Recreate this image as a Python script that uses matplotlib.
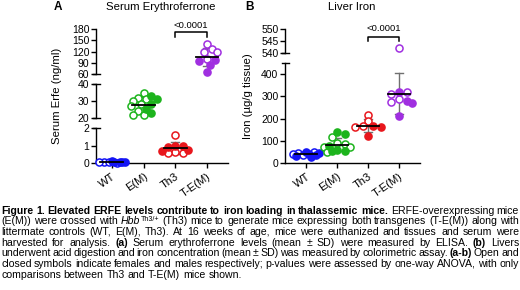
"""
Serum erythroferrone and liver iron in thalassemic mice (two broken-axis dot plots + caption)
"""

import numpy as np
import matplotlib
matplotlib.use('Agg')
import matplotlib.pyplot as plt

plt.rcParams['font.family'] = ['Liberation Sans', 'DejaVu Sans']

W, H = 520, 290

groups = ['WT', 'E(M)', 'Th3', 'T-E(M)']
colors = ['#1414f5', '#1db41d', '#e8161c', '#a02fe0']

# Serum Erfe (ng/ml); open symbols = females, closed = males
erfe_open = [
    [0.05, 0.03, 0.04, 0.02],
    [34.5, 32.0, 31.0, 30.0, 28.0, 27.0, 24.0, 22.0, 21.5],
    [1.62, 0.65, 0.60, 0.58],
    [140, 127, 120, 118, 100],
]
erfe_closed = [
    [0.12, 0.06, 0.05, 0.04, 0.03],
    [33.0, 31.0, 28.0, 25.0, 23.0],
    [1.00, 0.95, 0.90, 0.75, 0.70],
    [97, 95, 85, 65],
]

# Liver iron (ug/g tissue)
iron_open = [
    [48, 45, 42, 38],
    [118, 88, 86, 73, 70, 50],
    [215, 188, 165, 160],
    [542, 320, 309, 286, 276],
]
iron_closed = [
    [50, 44, 40, 35, 30, 28],
    [140, 130, 75, 60, 55, 53],
    [166, 162, 120],
    [321, 279, 271, 210],
]

erfe_p = '<0.0001'
iron_p = '<0.0001'

# layout in pixels: y-axis x, x-axis end, xlim, segments (ylim, ticks, px bottom, px top)
panel_a = dict(x0=96, x1=228, xlim=(-0.5, 3.66),
               segments=[((0, 2), [0, 1, 2], 163, 128),
                         ((20, 40), [20, 30, 40], 118, 84),
                         ((60, 180), [60, 90, 120, 150, 180], 74, 29)],
               bracket=(172.5, 160, 176))
panel_b = dict(x0=285, x1=420, xlim=(-0.68, 3.68),
               segments=[((0, 450), [0, 100, 200, 300, 400], 163, 63),
                         ((540, 550), [540, 545, 550], 53, 29)],
               bracket=(546.8, 544.9, 548.2))

MARK_D = 7.0   # marker diameter, px
MAX_OFF = 14   # widest swarm offset, px


def to_px(v, segments):
    for (lo, hi), _, yb, yt in segments:
        if lo - 3 <= v <= hi + 3:
            return yb - (v - lo) / (hi - lo) * (yb - yt)
    return 0.0


def swarm(ys, step, min_d):
    """Greedy beeswarm offsets in px, overlap allowed once it gets too wide."""
    offs = np.zeros(len(ys))
    placed = []
    for i in np.argsort(ys):
        cands = [0.0]
        k = 1
        while k * step <= MAX_OFF:
            cands += [k * step, -k * step]
            k += 1
        best, best_d = 0.0, -1
        for cand in cands:
            d = min([np.hypot(cand - px, ys[i] - py) for px, py in placed] or [99])
            if d >= min_d:
                best = cand
                break
            if d > best_d:
                best, best_d = cand, d
        offs[i] = best
        placed.append((best, ys[i]))
    return offs


def draw_panel(fig, cfg, opens, closeds, ylabel, ylabel_x, title, title_x, letter, letter_x, ptext):
    segs = cfg['segments']
    width_px = cfg['x1'] - cfg['x0']
    cat_px = width_px / (cfg['xlim'][1] - cfg['xlim'][0])
    axes = []
    for si, ((lo, hi), ticks, yb, yt) in enumerate(segs):
        ax = fig.add_axes([cfg['x0'] / W, 1 - yb / H, width_px / W, (yb - yt) / H])
        ax.set_facecolor('none')
        ax.set_xlim(*cfg['xlim'])
        ax.set_ylim(lo, hi)
        ax.set_yticks(ticks)
        for s in ['top', 'right']:
            ax.spines[s].set_visible(False)
        ax.spines['left'].set_linewidth(1.0)
        ax.spines['bottom'].set_linewidth(1.0)
        ax.tick_params(axis='y', length=3.5, width=1.0, labelsize=7.5, pad=1.2)
        ax.tick_params(axis='x', length=3.5, width=1.0, labelsize=8, pad=2.5)
        if si == 0:
            ax.set_xticks(range(len(groups)))
            ax.set_xticklabels(groups, rotation=35, ha='right', va='top', rotation_mode='anchor')
        else:
            ax.spines['bottom'].set_visible(False)
            ax.set_xticks([])
        # break caps
        cap = 3.5 / width_px
        if si > 0:
            ax.plot([-cap, cap], [lo, lo], color='black', lw=1.0, transform=ax.get_yaxis_transform(), clip_on=False)
        if si < len(segs) - 1:
            ax.plot([-cap, cap], [hi, hi], color='black', lw=1.0, transform=ax.get_yaxis_transform(), clip_on=False)
        axes.append(ax)

    for gi in range(len(groups)):
        vals = np.array(opens[gi] + closeds[gi], dtype=float)
        is_open = np.array([True] * len(opens[gi]) + [False] * len(closeds[gi]))
        ys = np.array([to_px(v, segs) for v in vals])
        xs = gi + swarm(ys, 2.6, MARK_D * 0.85) / cat_px
        m, sd = vals.mean(), vals.std(ddof=1)
        for ax, ((lo, hi), _, yb, yt) in zip(axes, segs):
            ax.plot([gi, gi], [m - sd, m + sd], color='#707070', lw=1.0, zorder=2)
            for e in (m - sd, m + sd):
                ax.plot([gi - 0.13, gi + 0.13], [e, e], color='#707070', lw=1.0, zorder=2)
            ax.plot([gi - 0.36, gi + 0.36], [m, m], color='black', lw=1.3, zorder=4)
            margin = 4 * (hi - lo) / (yb - yt)
            sel = (vals >= lo - margin) & (vals <= hi + margin)
            o = sel & is_open
            c = sel & ~is_open
            ax.scatter(xs[o], vals[o], s=26, facecolor='white', edgecolor=colors[gi],
                       linewidth=1.1, zorder=3, clip_on=False)
            ax.scatter(xs[c], vals[c], s=26, facecolor=colors[gi], edgecolor=colors[gi],
                       linewidth=1.1, zorder=3, clip_on=False)

    # significance bracket Th3 vs T-E(M)
    top = axes[-1]
    yh, yl, yt_ = cfg['bracket']
    top.plot([2, 2, 3, 3], [yl, yh, yh, yl], color='black', lw=1.1, clip_on=False)
    top.text(2.5, yt_, ptext, ha='center', va='bottom', fontsize=6.8)

    mid = (segs[0][2] + segs[-1][3]) / 2
    fig.text(ylabel_x / W, 1 - mid / H, ylabel, rotation=90, ha='center', va='center', fontsize=8.2)
    fig.text(title_x / W, 1 - 7 / H, title, ha='center', va='center', fontsize=8.2)
    fig.text(letter_x / W, 1 - 7 / H, letter, ha='center', va='center', fontsize=8.5, fontweight='bold')


fig = plt.figure(figsize=(W / 100, H / 100), dpi=100)

draw_panel(fig, panel_a, erfe_open, erfe_closed, 'Serum Erfe (ng/ml)', 57,
           'Serum Erythroferrone', 161, 'A', 58, erfe_p)
draw_panel(fig, panel_b, iron_open, iron_closed, 'Iron (\u00b5g/g tissue)', 248,
           'Liver Iron', 352, 'B', 249, iron_p)

# caption, justified line by line
caption = [
    [('Figure 1. Elevated ERFE levels contribute to iron loading in thalassemic mice.', 'b'),
     (' ERFE-overexpressing mice', 'n')],
    [('(E(M)) were crossed with ', 'n'), ('Hbb', 'i'), ('Th3/+', 'sup'),
     (' (Th3) mice to generate mice expressing both transgenes (T-E(M)) along with', 'n')],
    [('littermate controls (WT, E(M), Th3). At 16 weeks of age, mice were euthanized and tissues and serum were', 'n')],
    [('harvested for analysis. ', 'n'), ('(a)', 'b'),
     (' Serum erythroferrone levels (mean \u00b1 SD) were measured by ELISA. ', 'n'), ('(b)', 'b'), (' Livers', 'n')],
    [('underwent acid digestion and iron concentration (mean \u00b1 SD) was measured by colorimetric assay. ', 'n'),
     ('(a-b)', 'b'), (' Open and', 'n')],
    [('closed symbols indicate females and males respectively; p-values were assessed by one-way ANOVA, with only', 'n')],
    [('comparisons between Th3 and T-E(M) mice shown.', 'n')],
]

CAP_FS = 7.6
styles = {
    'n': dict(fontsize=CAP_FS),
    'b': dict(fontsize=CAP_FS, fontweight='bold'),
    'i': dict(fontsize=CAP_FS, fontstyle='italic'),
    'sup': dict(fontsize=CAP_FS * 0.68),
}

renderer = fig.canvas.get_renderer()


def text_w(s, style):
    t = fig.text(0, 0, s, **styles[style])
    w = t.get_window_extent(renderer).width
    t.remove()
    return w


space_w = text_w('a a', 'n') - text_w('aa', 'n')

x_left, x_right = 1.0, 519.0
for li, parts in enumerate(caption):
    words = [[]]
    for txt, st in parts:
        for j, chunk in enumerate(txt.split(' ')):
            if j > 0:
                words.append([])
            if chunk:
                words[-1].append((chunk, st))
    words = [w for w in words if w]
    widths = [sum(text_w(s, st) for s, st in w) for w in words]
    last = li == len(caption) - 1
    gap = space_w if last else (x_right - x_left - sum(widths)) / (len(words) - 1)
    base = 213.5 + 10.7 * li
    x = x_left
    for w, ww in zip(words, widths):
        xx = x
        for s, st in w:
            y = base - (3.4 if st == 'sup' else 0)
            fig.text(xx / W, 1 - y / H, s, ha='left', va='baseline', **styles[st])
            xx += text_w(s, st)
        x += ww + gap

fig.savefig('out.png', dpi=100)
